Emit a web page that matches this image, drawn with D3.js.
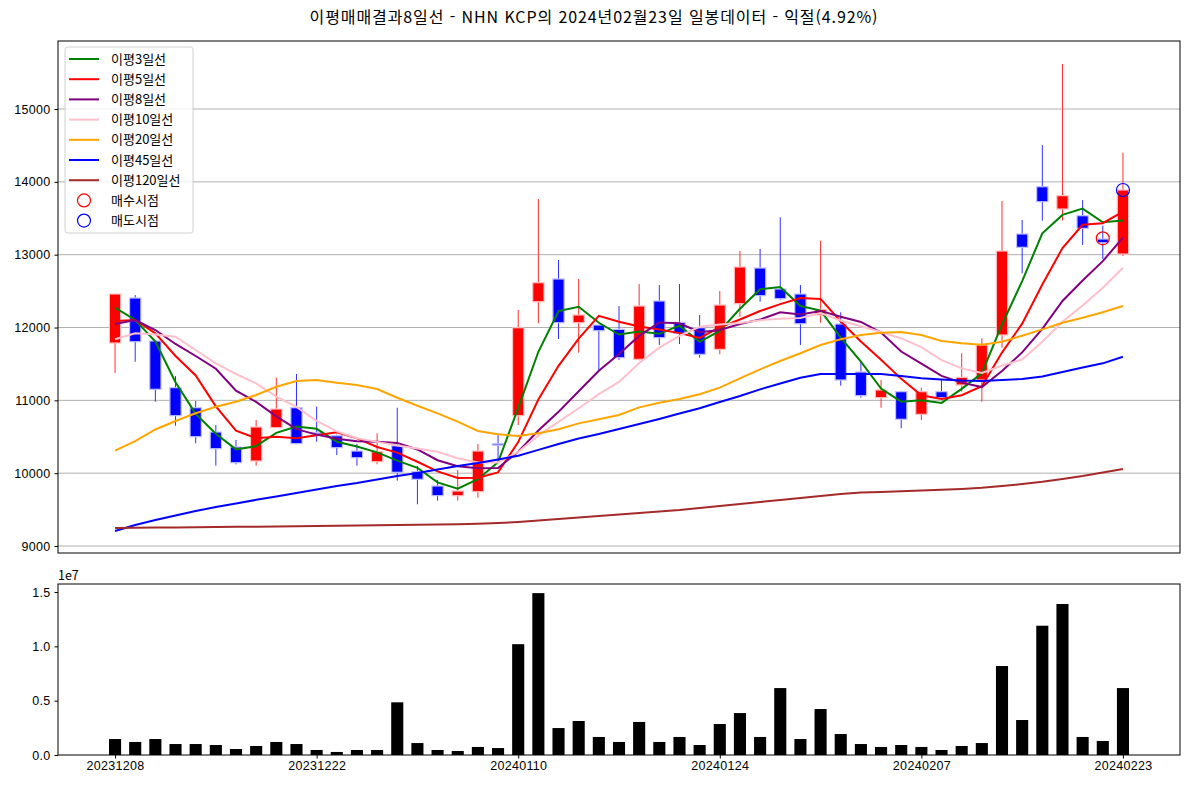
<!DOCTYPE html>
<html lang="ko">
<head>
<meta charset="UTF-8">
<title>이평매매결과8일선 - NHN KCP</title>
<script src="https://d3js.org/d3.v7.min.js"></script>
<style>
  body { margin: 0; background: #fff; }
  svg { display: block; font-family: "Noto Sans CJK KR", "Noto Sans", sans-serif; }
  .grid line { stroke: #b0b0b0; stroke-width: 1; }
  .axis text { font-size: 12.5px; fill: #000; letter-spacing: 0.3px; }
  .axis path, .axis line { stroke: #000; }
</style>
</head>
<body>
<svg id="chart" width="1189" height="788"></svg>
<script>
// trading days
const dates = ["20231208","20231211","20231212","20231213","20231214","20231215","20231218","20231219","20231220","20231221",
  "20231222","20231226","20231227","20231228","20240102","20240103","20240104","20240105","20240108","20240109",
  "20240110","20240111","20240112","20240115","20240116","20240117","20240118","20240119","20240122","20240123",
  "20240124","20240125","20240126","20240129","20240130","20240131","20240201","20240202","20240205","20240206",
  "20240207","20240208","20240213","20240214","20240215","20240216","20240219","20240220","20240221","20240222","20240223"];

const opens  = [11787,12405,11815,11174,10899,10565,10359,10167,10624,10899,10560,10514,10304,10157,10377,10020,9824,9691,9746,10405,
  10789,12354,12666,12066,12034,11975,11563,12364,12071,11997,11700,12327,12817,12529,12460,12172,12048,11389,11036,11119,
  10808,11119,11211,11279,11897,13284,13933,13627,13535,13215,13009];
const highs  = [12460,12446,11815,11334,10991,10661,10455,10730,11311,11362,10913,10530,10400,10547,10899,10098,9906,10043,10400,10547,
  12240,13764,12927,12666,12034,12295,12597,12583,12597,12172,12501,13050,13078,13513,12583,13192,12209,11531,11279,11130,
  11174,11279,11646,11852,13737,13476,14506,15618,13750,13398,14400];
const lows   = [11375,11530,10981,10652,10410,10103,10122,10103,10624,10405,10432,10249,10103,10122,9897,9573,9622,9622,9663,10181,
  10661,12058,11842,11654,11416,11554,11550,11760,11773,11585,11632,12148,12354,12380,11760,12066,11201,11036,10899,10616,
  10730,11030,11119,10981,11723,12744,13467,13467,13133,12940,12982];
const closes = [12460,11805,11152,10789,10501,10336,10144,10634,10881,10405,10540,10350,10212,10295,10012,9916,9691,9755,10304,10390,
  11997,12615,12066,12172,11956,11585,12295,11860,11920,11632,12309,12831,12437,12396,12052,12250,11279,11064,11142,10740,
  11119,11036,11316,11760,13050,13101,13727,13810,13362,13164,13888];
const volumes = [1.47e6,1.20e6,1.47e6,1.01e6,1.01e6,0.92e6,0.55e6,0.83e6,1.20e6,1.01e6,0.46e6,0.28e6,0.46e6,0.46e6,4.85e6,1.10e6,0.46e6,0.37e6,0.74e6,0.64e6,
  10.2e6,14.9e6,2.48e6,3.13e6,1.66e6,1.20e6,3.04e6,1.20e6,1.66e6,0.92e6,2.85e6,3.86e6,1.66e6,6.16e6,1.47e6,4.23e6,1.93e6,1.01e6,0.74e6,0.92e6,
  0.74e6,0.46e6,0.83e6,1.10e6,8.19e6,3.22e6,11.9e6,13.9e6,1.66e6,1.29e6,6.16e6];

// moving averages
const ma3 = [12272,12103,11806,11249,10814,10542,10327,10371,10553,10640,10609,10432,10367,10286,10173,10074,9873,9787,9917,10150,
  10897,11667,12226,12284,12065,11904,11945,11913,12025,11804,11954,12257,12526,12555,12295,12233,11860,11531,11162,10982,
  11000,10965,11157,11371,12042,12637,13293,13546,13633,13445,13471];
const ma5 = [12090,12103,11920,11609,11341,10917,10584,10481,10499,10480,10521,10562,10478,10360,10282,10157,10025,9934,9936,10011,
  10427,11012,11474,11848,12161,12079,12015,11974,11923,11858,12003,12110,12226,12321,12405,12393,12083,11808,11557,11295,
  11069,11020,11071,11194,11656,12053,12591,13090,13410,13433,13590];
const ma8 = [12048,12103,11966,11774,11609,11434,11132,10978,10780,10605,10529,10474,10438,10433,10416,10326,10178,10096,10067,10072,
  10295,10585,10842,11124,11407,11636,11885,12068,12059,11936,11966,12049,12109,12210,12180,12228,12148,12077,11931,11670,
  11505,11335,11243,11182,11403,11658,11981,12365,12645,12911,13233];
const ma10 = [11838,11920,11905,11874,11691,11508,11362,11234,11050,10911,10719,10573,10479,10430,10381,10339,10294,10206,10148,10147,
  10292,10519,10704,10892,11086,11253,11514,11724,11886,12010,12041,12063,12100,12122,12132,12198,12097,12017,11939,11850,
  11731,11552,11439,11376,11476,11561,11806,12080,12302,12545,12821];
const ma20 = [10309,10440,10600,10716,10822,10913,10981,11073,11187,11265,11279,11242,11210,11155,11036,10926,10822,10707,10579,10534,
  10510,10547,10602,10684,10740,10799,10904,10968,11018,11083,11174,11302,11426,11540,11646,11760,11840,11897,11929,11938,
  11897,11815,11783,11764,11805,11888,11975,12066,12135,12209,12295];
const ma45 = [9206,9288,9357,9419,9480,9535,9585,9634,9680,9728,9776,9824,9865,9913,9961,10003,10051,10099,10140,10188,
  10240,10320,10400,10476,10538,10607,10675,10744,10819,10891,10977,11059,11151,11231,11311,11362,11362,11362,11362,11334,
  11303,11286,11272,11265,11279,11293,11327,11389,11451,11508,11599];
const ma120 = [9247,9250,9253,9255,9258,9261,9264,9266,9269,9272,9275,9278,9281,9284,9288,9291,9295,9300,9306,9316,
  9330,9350,9371,9391,9412,9432,9453,9474,9494,9522,9549,9577,9604,9632,9659,9687,9714,9735,9741,9751,
  9762,9773,9783,9799,9824,9851,9881,9920,9961,10009,10057];

const buyPoints = [{ i: 49, price: 13225 }];
const sellPoints = [{ i: 50, price: 13888 }];

const maSeries = [
  { name: "이평3일선", values: ma3, color: "green" },
  { name: "이평5일선", values: ma5, color: "red" },
  { name: "이평8일선", values: ma8, color: "purple" },
  { name: "이평10일선", values: ma10, color: "pink" },
  { name: "이평20일선", values: ma20, color: "orange" },
  { name: "이평45일선", values: ma45, color: "blue" },
  { name: "이평120일선", values: ma120, color: "brown" }
];

const priceTicks = [9000, 10000, 11000, 12000, 13000, 14000, 15000];
const volTicks = [0, 0.5e7, 1.0e7, 1.5e7];
const dateTicks = [0, 10, 20, 30, 40, 50];

const svg = d3.select("#chart");
const left = 58, right = 1180;
const main = { top: 41, bottom: 553 };
const vol = { top: 584, bottom: 755 };

const x = d3.scaleLinear().domain([-2.83, 52.83]).range([left, right]);
const y = d3.scaleLinear().domain([8904, 15934]).range([main.bottom, main.top]);
const yv = d3.scaleLinear().domain([0, 1.574e7]).range([vol.bottom, vol.top]);
const step = x(1) - x(0);
const bodyW = step * 0.56;

// title
svg.append("text")
  .attr("x", 594).attr("y", 23)
  .attr("text-anchor", "middle")
  .attr("font-size", 16)
  .attr("letter-spacing", 0.9)
  .text("이평매매결과8일선 - NHN KCP의 2024년02월23일 일봉데이터 - 익절(4.92%)");

// grid
svg.append("g").attr("class", "grid")
  .selectAll("line").data(priceTicks).join("line")
  .attr("x1", left).attr("x2", right)
  .attr("y1", d => y(d)).attr("y2", d => y(d));

// y axis of price
const yAxis = svg.append("g").attr("class", "axis")
  .attr("transform", `translate(${left},0)`)
  .call(d3.axisLeft(y).tickValues(priceTicks).tickSize(3.5).tickPadding(4).tickFormat(d3.format("d")));
yAxis.select(".domain").remove();

// candles
const candles = svg.append("g");
const idx = d3.range(closes.length);
candles.selectAll("line").data(idx).join("line")
  .attr("x1", i => x(i)).attr("x2", i => x(i))
  .attr("y1", i => y(highs[i])).attr("y2", i => y(lows[i]))
  .attr("stroke", i => closes[i] >= opens[i] ? "#ff3030" : "#3030ff")
  .attr("stroke-width", 1);
candles.selectAll("rect").data(idx).join("rect")
  .attr("x", i => x(i) - bodyW / 2)
  .attr("width", bodyW)
  .attr("y", i => y(Math.max(opens[i], closes[i])))
  .attr("height", i => Math.max(1.5, Math.abs(y(opens[i]) - y(closes[i]))))
  .attr("fill", i => closes[i] >= opens[i] ? "#ff0000" : "#0000ff")
  .attr("stroke", i => closes[i] >= opens[i] ? "#ffc0c0" : "#c0c0ff")
  .attr("stroke-width", 1.2);

// moving averages
const line = d3.line().x((d, i) => x(i)).y(d => y(d));
svg.append("g").selectAll("path").data(maSeries).join("path")
  .attr("d", d => line(d.values))
  .attr("fill", "none")
  .attr("stroke", d => d.color)
  .attr("stroke-width", 2);

// trade markers
svg.append("g").selectAll("circle").data(buyPoints).join("circle")
  .attr("cx", d => x(d.i)).attr("cy", d => y(d.price)).attr("r", 6.5)
  .attr("fill", "none").attr("stroke", "red").attr("stroke-width", 1.2);
svg.append("g").selectAll("circle").data(sellPoints).join("circle")
  .attr("cx", d => x(d.i)).attr("cy", d => y(d.price)).attr("r", 6.5)
  .attr("fill", "none").attr("stroke", "blue").attr("stroke-width", 1.2);

// frame of price axes
svg.append("rect").attr("x", left).attr("y", main.top)
  .attr("width", right - left).attr("height", main.bottom - main.top)
  .attr("fill", "none").attr("stroke", "#000").attr("stroke-width", 1);

// legend
const legend = svg.append("g").attr("transform", "translate(65,47)");
legend.append("rect").attr("width", 128).attr("height", 186).attr("rx", 2.5)
  .attr("fill", "white").attr("fill-opacity", 0.8).attr("stroke", "#d0d0d0");
const legendItems = maSeries.map(d => ({ name: d.name, color: d.color, kind: "line" }))
  .concat([{ name: "매수시점", color: "red", kind: "circle" }, { name: "매도시점", color: "blue", kind: "circle" }]);
const li = legend.selectAll("g").data(legendItems).join("g")
  .attr("transform", (d, i) => `translate(0,${12 + i * 20.2})`);
li.filter(d => d.kind === "line").append("line")
  .attr("x1", 4).attr("x2", 34).attr("stroke", d => d.color).attr("stroke-width", 2);
li.filter(d => d.kind === "circle").append("circle")
  .attr("cx", 19).attr("r", 6.5).attr("fill", "none").attr("stroke", d => d.color).attr("stroke-width", 1.2);
li.append("text").attr("x", 46).attr("dy", "0.35em").attr("font-size", 13).text(d => d.name);

// volume panel
svg.append("g").selectAll("rect").data(idx).join("rect")
  .attr("x", i => x(i) - step * 0.3)
  .attr("width", step * 0.6)
  .attr("y", i => yv(volumes[i]))
  .attr("height", i => yv(0) - yv(volumes[i]))
  .attr("fill", "#000");

svg.append("rect").attr("x", left).attr("y", vol.top)
  .attr("width", right - left).attr("height", vol.bottom - vol.top)
  .attr("fill", "none").attr("stroke", "#000").attr("stroke-width", 1);

const yvAxis = svg.append("g").attr("class", "axis")
  .attr("transform", `translate(${left},0)`)
  .call(d3.axisLeft(yv).tickValues(volTicks).tickSize(3.5).tickPadding(4).tickFormat(d => (d / 1e7).toFixed(1)));
yvAxis.select(".domain").remove();

svg.append("text").attr("x", left).attr("y", 580).attr("font-size", 12.5).text("1e7");

const xAxis = svg.append("g").attr("class", "axis")
  .attr("transform", `translate(0,${vol.bottom})`)
  .call(d3.axisBottom(x).tickValues(dateTicks).tickSize(3.5).tickPadding(3).tickFormat(i => dates[i]));
xAxis.select(".domain").remove();
</script>
</body>
</html>
